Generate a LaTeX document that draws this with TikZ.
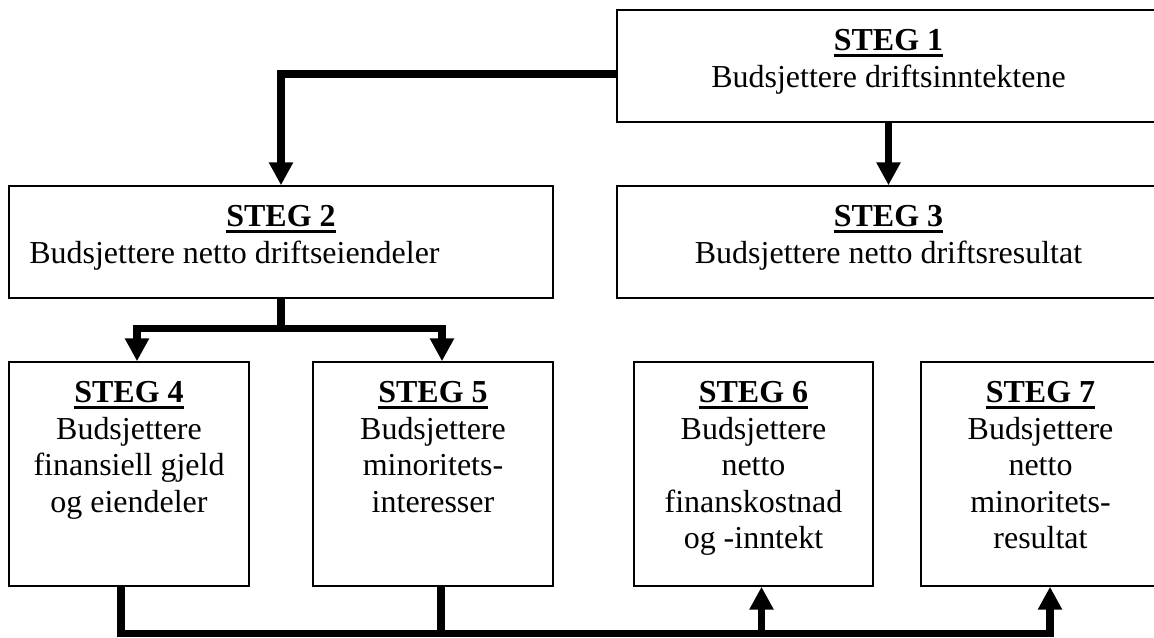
\documentclass[tikz,border=0pt]{standalone}
\usepackage{fontspec}
\setmainfont{Liberation Serif}
\usetikzlibrary{arrows.meta,positioning,fit}

\newcommand{\steghead}[1]{\textbf{\setbox0\hbox{STEG #1}\rlap{\rule[-3.6pt]{\wd0}{1.6pt}}\box0}}

\tikzset{
	box/.style={draw, line width=0.85pt, inner sep=0pt, fit={#1}},
	txt/.style={inner sep=0pt, align=center, font=\fontsize{18.2}{20.8}\selectfont},
	link/.style={line width=4pt},
	flow/.style={line width=4pt, -{Triangle[width=13pt,length=13pt]}},
}

\begin{document}
\begin{tikzpicture}[x=0.02cm, y=-0.02cm]
	\useasboundingbox (0,0) rectangle (1154,637);
	\clip (0,0) rectangle (1154,637);
	% Boxes
	\foreach \n/\l/\t/\r/\b in {1/617/10/1160/122, 2/9/186/553/298, 3/617/186/1160/298,
		4/9/362/249/586, 5/313/362/553/586, 6/634/362/873/586, 7/921/362/1160/586} {
		\node[box={(\l,\t) (\r,\b)}] (s\n) {};
	}
	% Texts
	\node[txt, below=0.4cm of s1.north] (t1) {\steghead{1}\\Budsjettere driftsinntektene};
	\node[txt, below=0.4cm of s2.north] (t2) {\steghead{2}};
	\node[txt, anchor=base west] (t2b) at (29,263) {Budsjettere netto driftseiendeler};
	\node[txt, below=0.4cm of s3.north] (t3) {\steghead{3}\\Budsjettere netto driftsresultat};
	\node[txt, below=0.4cm of s4.north] (t4) {\steghead{4}\\Budsjettere\\finansiell gjeld\\og eiendeler};
	\node[txt, below=0.4cm of s5.north] (t5) {\steghead{5}\\Budsjettere\\minoritets-\\interesser};
	\node[txt, below=0.4cm of s6.north] (t6) {\steghead{6}\\Budsjettere\\netto\\finanskostnad\\og -inntekt};
	\node[txt, below=0.4cm of s7.north] (t7) {\steghead{7}\\Budsjettere\\netto\\minoritets-\\resultat};
	% Top arrows
	\draw[flow] ([yshift=-0.16cm]s1.west) -| (s2.north);
	\draw[flow] (s1) -- (s3);
	% Split below STEG 2
	\coordinate (j2) at ([yshift=-0.6cm]s2.south);
	\draw[link] (s2.south) -- (j2);
	\draw[flow] (j2) -| ([xshift=0.16cm]s4.north);
	\draw[flow] (j2) -| ([xshift=0.18cm]s5.north);
	% Bottom bus
	\coordinate (c4) at ([xshift=-0.16cm]s4.south);
	\coordinate (c5) at ([xshift=0.16cm]s5.south);
	\coordinate (c6) at ([xshift=0.16cm]s6.south);
	\coordinate (c7) at ([xshift=0.19cm]s7.south);
	\coordinate (bus) at ([yshift=-0.94cm]s4.south);
	\draw[flow] (c4) |- (bus -| c7) -- (c7);
	\draw[link] (c5) -- (c5 |- bus);
	\draw[flow] (c6 |- bus) -- (c6);
\end{tikzpicture}
\end{document}
